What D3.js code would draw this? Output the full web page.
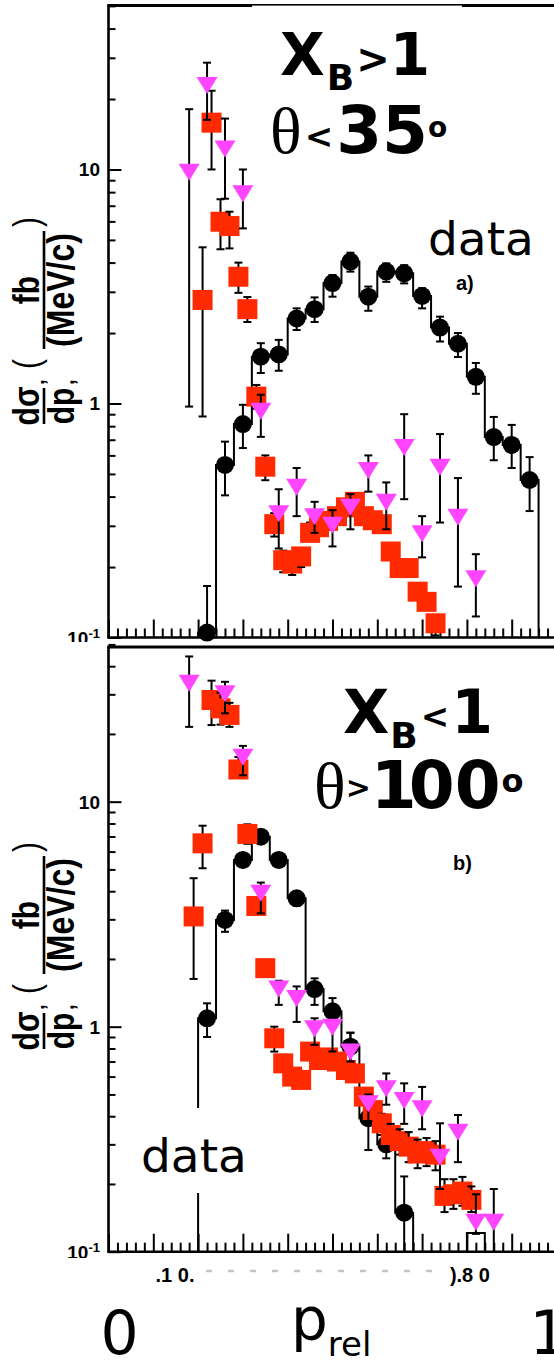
<!DOCTYPE html>
<html>
<head>
<meta charset="utf-8">
<script src="https://cdn.jsdelivr.net/npm/d3@7"></script>
<style>
  body { margin: 0; background: #fff; }
  svg { display: block; }
</style>
</head>
<body>
<svg id="chart" width="554" height="1363"></svg>
<script>
// ---- panel a) x_B > 1, theta < 35 deg ----
const pA_data = [0.22, 0.26, 0.30, 0.34, 0.38, 0.42, 0.46, 0.50, 0.54, 0.58, 0.62, 0.66, 0.70, 0.74, 0.78, 0.82, 0.86, 0.90, 0.94]
const vA_data = [0.105, 0.546, 0.817, 1.585, 1.62, 2.31, 2.53, 3.27, 4.04, 2.86, 3.66, 3.6, 2.88, 2.11, 1.80, 1.30, 0.719, 0.665, 0.471]
const hiA_data = [0.166, 0.687, 0.987, 1.81, 1.87, 2.55, 2.84, 3.54, 4.41, 3.16, 3.97, 3.9, 3.11, 2.35, 2.0, 1.49, 0.876, 0.81, 0.59]
const loA_data = [0.05, 0.405, 0.645, 1.35, 1.38, 2.06, 2.23, 2.86, 3.66, 2.49, 3.31, 3.26, 2.55, 1.84, 1.58, 1.10, 0.572, 0.53, 0.347]

const pA_red = [0.21, 0.23, 0.25, 0.27, 0.29, 0.31, 0.33, 0.35, 0.37, 0.39, 0.41, 0.43, 0.45, 0.47, 0.49, 0.51, 0.53, 0.55, 0.57, 0.59, 0.61, 0.63, 0.65, 0.67, 0.69, 0.71, 0.73]
const vA_red = [2.77, 15.85, 5.98, 5.73, 3.48, 2.53, 1.07, 0.537, 0.305, 0.214, 0.207, 0.222, 0.28, 0.296, 0.315, 0.33, 0.36, 0.38, 0.33, 0.317, 0.305, 0.233, 0.198, 0.198, 0.157, 0.142, 0.115]
const hiA_red = [4.65, 21.7, 7.46, 6.6, 4.0, 2.85, 1.2, 0.6, 0.34, 0.235, 0.225, 0.24, 0.31, 0.32, 0.34, 0.355, 0.385, 0.405, 0.35, 0.335, 0.322, 0.245, 0.21, 0.21, 0.165, 0.15, 0.12]
const loA_red = [0.88, 10.0, 4.56, 4.6, 2.97, 2.23, 0.95, 0.47, 0.27, 0.19, 0.185, 0.2, 0.26, 0.275, 0.29, 0.31, 0.335, 0.355, 0.31, 0.3, 0.29, 0.222, 0.185, 0.187, 0.15, 0.135, 0.102]

const pA_mag = [0.18, 0.22, 0.26, 0.30, 0.34, 0.38, 0.42, 0.46, 0.50, 0.54, 0.58, 0.62, 0.66, 0.70, 0.74, 0.78, 0.82]
const vA_mag = [9.78, 22.96, 12.3, 7.91, 0.93, 0.34, 0.441, 0.33, 0.303, 0.362, 0.52, 0.38, 0.652, 0.279, 0.537, 0.328, 0.179]
const hiA_mag = [18.1, 28.6, 16.5, 10.0, 1.09, 0.43, 0.53, 0.38, 0.35, 0.41, 0.60, 0.46, 0.90, 0.33, 0.74, 0.48, 0.227]
const loA_mag = [0.97, 16.3, 7.5, 5.6, 0.72, 0.24, 0.33, 0.28, 0.245, 0.29, 0.42, 0.29, 0.39, 0.22, 0.31, 0.165, 0.123]

// ---- panel b) x_B < 1, theta > 100 deg ----
const pB_hist = [0.22, 0.26, 0.30, 0.34, 0.38, 0.42, 0.46, 0.50, 0.54, 0.58, 0.62, 0.66, 0.70, 0.74, 0.78, 0.82]
const vB_hist = [1.09, 2.98, 5.51, 6.99, 5.51, 3.72, 1.47, 1.17, 0.815, 0.392, 0.30, 0.149, 0, 0, 0, 0.121]

const pB_data = [0.22, 0.26, 0.30, 0.34, 0.38, 0.42, 0.46, 0.50, 0.54, 0.58, 0.62, 0.66]
const vB_data = [1.09, 2.98, 5.51, 6.99, 5.51, 3.72, 1.47, 1.17, 0.815, 0.392, 0.30, 0.149]
const hiB_data = [1.27, 3.28, 5.85, 7.4, 5.85, 3.98, 1.64, 1.34, 0.94, 0.44, 0.34, 0.216]
const loB_data = [0.9, 2.64, 5.15, 6.55, 5.15, 3.45, 1.25, 1.0, 0.70, 0.283, 0.26, 0.05]

const pB_red = [0.19, 0.21, 0.23, 0.25, 0.27, 0.29, 0.31, 0.33, 0.35, 0.37, 0.39, 0.41, 0.43, 0.45, 0.47, 0.49, 0.51, 0.53, 0.55, 0.57, 0.59, 0.61, 0.63, 0.65, 0.67, 0.69, 0.71, 0.73, 0.75, 0.77, 0.79, 0.81]
const vB_red = [3.09, 6.53, 28.3, 26.0, 24.3, 13.9, 7.19, 3.44, 1.82, 0.888, 0.687, 0.6, 0.58, 0.775, 0.711, 0.73, 0.70, 0.642, 0.62, 0.489, 0.426, 0.372, 0.33, 0.31, 0.293, 0.273, 0.28, 0.27, 0.177, 0.18, 0.185, 0.17]
const hiB_red = [4.57, 7.82, 34.5, 30.5, 27.5, 15.8, 7.93, 3.7, 1.95, 1.0, 0.75, 0.64, 0.62, 0.83, 0.76, 0.78, 0.75, 0.69, 0.67, 0.53, 0.465, 0.41, 0.37, 0.35, 0.34, 0.315, 0.32, 0.31, 0.21, 0.21, 0.215, 0.195]
const loB_red = [1.63, 5.06, 21.9, 22.0, 21.5, 12.9, 6.5, 3.2, 1.7, 0.775, 0.63, 0.56, 0.545, 0.72, 0.66, 0.68, 0.65, 0.60, 0.58, 0.45, 0.39, 0.33, 0.29, 0.27, 0.25, 0.235, 0.24, 0.23, 0.15, 0.155, 0.16, 0.15]

const pB_mag = [0.18, 0.26, 0.30, 0.34, 0.38, 0.42, 0.46, 0.50, 0.54, 0.58, 0.62, 0.66, 0.70, 0.74, 0.78, 0.82, 0.86]
const vB_mag = [33.8, 30.3, 15.85, 3.94, 1.48, 1.34, 0.984, 1.0, 0.776, 0.457, 0.532, 0.472, 0.434, 0.264, 0.341, 0.136, 0.136]
const hiB_mag = [44.2, 34.1, 17.7, 4.37, 1.6, 1.51, 1.09, 1.17, 0.94, 0.5, 0.62, 0.56, 0.54, 0.372, 0.405, 0.18, 0.19]
const loB_mag = [21.5, 24.7, 13.1, 3.19, 1.25, 1.05, 0.83, 0.776, 0.70, 0.38, 0.45, 0.37, 0.35, 0.19, 0.25, 0.12, 0.05]

const yMajorLabels = ['10\u207B\u00B9', '1', '10']
const xTickFragments = ['.1 0.', ').8 0']

const RED = '#ff2a00'
const MAGENTA = '#ff45ff'

const svg = d3.select('#chart')
const x = d3.scaleLinear().domain([0, 1]).range([108.5, 556.5])
const isDecade = v => Math.abs(Math.log10(v) - Math.round(Math.log10(v))) < 1e-6

function stepPath(y, centers, values) {
  const base = y.range()[0]
  const half = 0.02
  const yy = v => (v > 0 ? y(v) : base)
  const pts = [[x(centers[0] - half), base]]
  centers.forEach((c, i) => {
    pts.push([x(c - half), yy(values[i])])
    pts.push([x(c + half), yy(values[i])])
  })
  pts.push([x(centers[centers.length - 1] + half), base])
  return d3.line()(pts)
}

function drawSeries(g, y, ps, vs, los, his, marker) {
  const yMin = y.domain()[0]
  ps.forEach((p, i) => {
    const pg = g.append('g')
    const cx = x(p)
    const top = y(his[i])
    const bot = los[i] > yMin ? y(los[i]) : y.range()[0]
    pg.append('line')
      .attr('x1', cx).attr('x2', cx).attr('y1', top).attr('y2', bot)
      .attr('stroke', '#000').attr('stroke-width', 2)
    pg.append('line')
      .attr('x1', cx - 4).attr('x2', cx + 4).attr('y1', top).attr('y2', top)
      .attr('stroke', '#000').attr('stroke-width', 2)
    if (los[i] > yMin) {
      pg.append('line')
        .attr('x1', cx - 4).attr('x2', cx + 4).attr('y1', bot).attr('y2', bot)
        .attr('stroke', '#000').attr('stroke-width', 2)
    }
    const cy = y(vs[i])
    if (marker === 'circle') {
      pg.append('circle').attr('cx', cx).attr('cy', cy).attr('r', 9).attr('fill', '#000')
    } else if (marker === 'square') {
      pg.append('rect').attr('x', cx - 10).attr('y', cy - 10)
        .attr('width', 20).attr('height', 20).attr('fill', RED)
    } else {
      pg.append('path')
        .attr('transform', `translate(${cx},${cy})`)
        .attr('d', 'M-10.5,-8L10.5,-8L0,9Z')
        .attr('fill', MAGENTA)
    }
  })
}

function drawAxes(g, y, frameTop) {
  const [yBot] = y.range()
  const yt = y.ticks()
  const xt = x.ticks(50)
  const onTenth = v => Math.abs(v * 10 - Math.round(v * 10)) < 1e-6

  const ax = g.append('g').attr('class', 'axes')
  ax.append('g').attr('transform', `translate(${x(0)},0)`)
    .call(d3.axisRight(y).tickValues(yt.filter(v => !isDecade(v))).tickSize(7).tickSizeOuter(0).tickFormat(''))
  ax.append('g').attr('transform', `translate(${x(0)},0)`)
    .call(d3.axisRight(y).tickValues(yt.filter(isDecade)).tickSize(13).tickSizeOuter(0).tickFormat(''))
  ax.append('g').attr('transform', `translate(0,${yBot})`)
    .call(d3.axisTop(x).tickValues(xt.filter(v => !onTenth(v))).tickSize(9).tickSizeOuter(0).tickFormat(''))
  ax.append('g').attr('transform', `translate(0,${yBot})`)
    .call(d3.axisTop(x).tickValues(xt.filter(onTenth)).tickSize(18).tickSizeOuter(0).tickFormat(''))
  ax.selectAll('.domain').remove()
  ax.selectAll('.tick line').attr('stroke', '#000').attr('stroke-width', 2)

  // frame
  g.append('line').attr('x1', x(0)).attr('x2', x(0)).attr('y1', frameTop).attr('y2', yBot)
    .attr('stroke', '#000').attr('stroke-width', 2.6)
  g.append('line').attr('x1', x(0) - 1.3).attr('x2', x(1)).attr('y1', yBot).attr('y2', yBot)
    .attr('stroke', '#000').attr('stroke-width', 2.6)
  g.append('line').attr('x1', x(0) - 1.3).attr('x2', x(1)).attr('y1', frameTop).attr('y2', frameTop)
    .attr('stroke', '#000').attr('stroke-width', 3)

  // decade labels
  const lab = g.append('g')
    .attr('font-family', 'Liberation Sans, Arial, sans-serif')
    .attr('font-weight', 'bold').attr('fill', '#000')
  yt.filter(isDecade).forEach((v, i) => {
    const t = lab.append('text').attr('text-anchor', 'end')
      .attr('x', 100).attr('y', y(v) + 7).attr('font-size', 19)
    const s = yMajorLabels[i]
    if (s.length > 2) {
      t.append('tspan').text('10')
      t.append('tspan').attr('font-size', 13).attr('dy', -7).text('-1')
    } else {
      t.text(s)
    }
  })
}

function yTitle(g, ox, oy) {
  const t = g.append('g')
    .attr('transform', `translate(${ox},${oy}) rotate(-90) scale(1,1.2)`)
    .attr('font-family', 'Liberation Sans, Arial, sans-serif')
    .attr('font-weight', 'bold').attr('fill', '#000')
  t.append('text').attr('x', 19).attr('y', -4).attr('text-anchor', 'middle').attr('font-size', 30).text('d\u03C3')
  t.append('line').attr('x1', 1).attr('x2', 37).attr('y1', 0).attr('y2', 0).attr('stroke', '#000').attr('stroke-width', 2.2)
  t.append('text').attr('x', 19).attr('y', 25).attr('text-anchor', 'middle').attr('font-size', 30).text('dp')
  t.append('text').attr('x', 40).attr('y', 12).attr('font-size', 20).text('\u2019')
  t.append('text').attr('x', 40).attr('y', 25).attr('font-size', 20).text(',')
  t.append('text').attr('x', 56).attr('y', -4).attr('font-size', 30).attr('font-weight', 'normal').text('(')
  t.append('text').attr('x', 135).attr('y', -4).attr('text-anchor', 'middle').attr('font-size', 30).text('fb')
  t.append('line').attr('x1', 76).attr('x2', 194).attr('y1', 0).attr('y2', 0).attr('stroke', '#000').attr('stroke-width', 2.2)
  t.append('text').attr('x', 135).attr('y', 25).attr('text-anchor', 'middle').attr('font-size', 32).text('(MeV/c)')
  t.append('text').attr('x', 198).attr('y', -4).attr('font-size', 30).attr('font-weight', 'normal').text(')')
}

function bold(g, txt, px, py, size, family) {
  return g.append('text').attr('x', px).attr('y', py)
    .attr('font-family', family || 'DejaVu Sans').attr('font-weight', 'bold')
    .attr('font-size', size).text(txt)
}

// ---------- panel a ----------
const yA = d3.scaleLog().domain([0.1, 50]).range([637.5, 5.9])
const gA = svg.append('g')
drawAxes(gA, yA, 5.5)
// title box hides the lower half of the frame line
gA.append('rect').attr('x', 252).attr('y', 5.6).attr('width', 210).attr('height', 150).attr('fill', '#fff')
gA.append('path').attr('d', stepPath(yA, pA_data, vA_data))
  .attr('fill', 'none').attr('stroke', '#000').attr('stroke-width', 2)
drawSeries(gA, yA, pA_data, vA_data, loA_data, hiA_data, 'circle')
drawSeries(gA, yA, pA_red, vA_red, loA_red, hiA_red, 'square')
drawSeries(gA, yA, pA_mag, vA_mag, loA_mag, hiA_mag, 'triangle')
yTitle(gA, 44, 425)

const tA = gA.append('g').attr('fill', '#000')
const titleA = bold(tA, '', 280, 75, 58)
titleA.append('tspan').text('X')
titleA.append('tspan').attr('font-size', 36).attr('dx', 2).attr('dy', 15).text('B')
titleA.append('tspan').attr('font-size', 40).attr('dx', 2).attr('dy', -17).text('>')
titleA.append('tspan').attr('dy', 2).text('1')
const titleA2 = tA.append('text').attr('x', 270).attr('y', 153).attr('fill', '#000')
titleA2.append('tspan').attr('font-family', 'Liberation Serif').attr('font-size', 66).text('\u03B8')
titleA2.append('tspan').attr('font-family', 'DejaVu Sans').attr('font-weight', 'bold').attr('font-size', 34).attr('dx', 3).attr('dy', -5).text('<')
titleA2.append('tspan').attr('font-family', 'DejaVu Sans').attr('font-weight', 'bold').attr('font-size', 66).attr('dx', 3).attr('dy', 5).text('35')
titleA2.append('tspan').attr('font-family', 'DejaVu Sans').attr('font-weight', 'bold').attr('font-size', 28).attr('dy', -16).text('o')
tA.append('text').attr('x', 428).attr('y', 255).attr('font-family', 'DejaVu Sans').attr('font-size', 47).text('data')
bold(tA, 'a)', 456, 290, 20, 'Liberation Sans')

// ---------- panel b ----------
svg.append('rect').attr('x', 0).attr('y', 642).attr('width', 554).attr('height', 721).attr('fill', '#fff')
const yB = d3.scaleLog().domain([0.1, 50]).range([1251.7, 644.4])
const gB = svg.append('g')
drawAxes(gB, yB, 647)
gB.append('path').attr('d', stepPath(yB, pB_hist, vB_hist))
  .attr('fill', 'none').attr('stroke', '#000').attr('stroke-width', 2)
// white box behind the "data" label
gB.append('rect').attr('x', 132).attr('y', 1108).attr('width', 118).attr('height', 85).attr('fill', '#fff')
drawSeries(gB, yB, pB_data, vB_data, loB_data, hiB_data, 'circle')
drawSeries(gB, yB, pB_red, vB_red, loB_red, hiB_red, 'square')
drawSeries(gB, yB, pB_mag, vB_mag, loB_mag, hiB_mag, 'triangle')
yTitle(gB, 44, 1050)

const tB = gB.append('g').attr('fill', '#000')
const titleB = bold(tB, '', 343, 733, 60)
titleB.append('tspan').text('X')
titleB.append('tspan').attr('font-size', 36).attr('dx', 1).attr('dy', 15).text('B')
titleB.append('tspan').attr('font-size', 34).attr('dx', 3).attr('dy', -20).text('<')
titleB.append('tspan').attr('dx', 2).attr('dy', 5).text('1')
const titleB2 = tB.append('text').attr('x', 314).attr('y', 808).attr('fill', '#000')
titleB2.append('tspan').attr('font-family', 'Liberation Serif').attr('font-size', 66).text('\u03B8')
titleB2.append('tspan').attr('font-family', 'DejaVu Sans').attr('font-weight', 'bold').attr('font-size', 30).attr('dy', -10).text('>')
titleB2.append('tspan').attr('font-family', 'DejaVu Sans').attr('font-weight', 'bold').attr('font-size', 66).attr('dy', 10).text('1')
titleB2.append('tspan').attr('font-family', 'DejaVu Sans').attr('font-weight', 'bold').attr('font-size', 66).attr('dx', -8).text('00')
titleB2.append('tspan').attr('font-family', 'DejaVu Sans').attr('font-weight', 'bold').attr('font-size', 32).attr('dx', 1).attr('dy', -16).text('o')
bold(tB, 'b)', 453, 870, 20, 'Liberation Sans')
tB.append('text').attr('x', 141).attr('y', 1172).attr('font-family', 'DejaVu Sans').attr('font-size', 47).text('data')

// clip the lower part of the bottom decade label
svg.append('rect').attr('x', 40).attr('y', 1258).attr('width', 66).attr('height', 12).attr('fill', '#fff')

// x axis labels (mostly hidden tick labels, only fragments show)
const xl = svg.append('g').attr('fill', '#000')
xl.append('line').attr('x1', 206).attr('x2', 446).attr('y1', 1271).attr('y2', 1271)
  .attr('stroke', '#c4c4c4').attr('stroke-width', 2.5).attr('stroke-dasharray', '6 16')
bold(xl, xTickFragments[0], x(0.105), 1282, 20, 'Liberation Sans')
bold(xl, xTickFragments[1], x(0.762), 1282, 20, 'Liberation Sans')
xl.append('text').attr('x', x(0) + 11).attr('y', 1354).attr('text-anchor', 'middle').attr('font-family', 'DejaVu Sans').attr('font-size', 60).text('0')
xl.append('text').attr('x', x(1) - 8).attr('y', 1354).attr('text-anchor', 'middle').attr('font-family', 'DejaVu Sans').attr('font-size', 60).text('1')
const pl = xl.append('text').attr('x', 291).attr('y', 1340).attr('font-family', 'DejaVu Sans').attr('font-size', 58)
pl.append('tspan').text('p')
pl.append('tspan').attr('font-size', 34).attr('dy', 16).text('rel')
</script>
</body>
</html>
